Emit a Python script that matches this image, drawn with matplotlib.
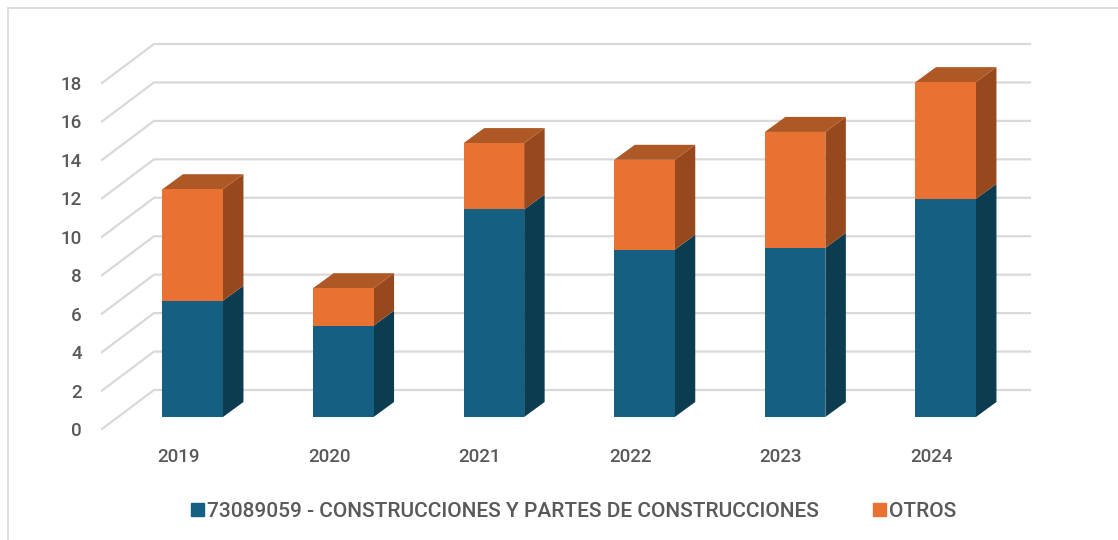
import matplotlib
matplotlib.use("Agg")
import matplotlib.pyplot as plt
import numpy as np
from matplotlib.lines import Line2D
from matplotlib.patches import Patch

years = ["2019", "2020", "2021", "2022", "2023", "2024"]
construcciones = [6.05, 4.75, 10.8, 8.7, 8.8, 11.35]
otros = [5.8, 1.95, 3.45, 4.68, 6.03, 6.07]
y_ticks = list(range(0, 20, 2))
series_names = ["73089059 - CONSTRUCCIONES Y PARTES DE CONSTRUCCIONES", "OTROS"]

BLUE, BLUE_SIDE = "#156082", "#0C3C50"
ORANGE, ORANGE_SIDE, ORANGE_TOP = "#E97132", "#97481D", "#AE5825"
GRID, TXT = "#D9D9D9", "#595959"
FONT = "Roboto"

W, H = 1118, 540
fig = plt.figure(figsize=(W / 100, H / 100), dpi=100)
L, R, T, B = 102, 1030, 83, 429
ax = fig.add_axes([L / W, 1 - B / H, (R - L) / W, (B - T) / H])
px_x = 150.6
px_y = (B - T) / 18
ax.set_ylim(0, 18)
ax.set_xlim((L - 178.5) / px_x, (R - 178.5) / px_x)
for s in ax.spines.values():
    s.set_visible(False)
ax.patch.set_visible(False)

# oblique projection offsets (pixels -> data units)
wall_dx, wall_dy = 52 / px_x, 39 / px_y
shift_x, shift_y = 14.2 / px_x, 12 / px_y
depth_x, depth_y = 20.5 / px_x, 15 / px_y
bw = 60.5 / px_x

# gridlines: floor/side segment plus back wall
xl = ax.get_xlim()
for v in y_ticks:
    ax.plot([xl[0], xl[0] + wall_dx, xl[1]], [v, v + wall_dy, v + wall_dy],
            color=GRID, lw=1.6, clip_on=False, zorder=1, solid_joinstyle="miter")

x = np.arange(len(years))
a = np.array(construcciones)
b = np.array(otros)
for i in x:
    x0 = i + shift_x - bw / 2
    x1 = x0 + bw
    base = shift_y
    t1 = base + a[i]
    t2 = t1 + b[i]
    # side faces
    ax.fill([x1, x1 + depth_x, x1 + depth_x, x1], [base, base + depth_y, t1 + depth_y, t1],
            color=BLUE_SIDE, lw=0, zorder=2, clip_on=False)
    ax.fill([x1, x1 + depth_x, x1 + depth_x, x1], [t1, t1 + depth_y, t2 + depth_y, t2],
            color=ORANGE_SIDE, lw=0, zorder=2, clip_on=False)
    # top face
    ax.fill([x0, x1, x1 + depth_x, x0 + depth_x], [t2, t2, t2 + depth_y, t2 + depth_y],
            color=ORANGE_TOP, lw=0, zorder=2, clip_on=False)
ax.bar(x + shift_x, a, bottom=shift_y, width=bw, color=BLUE, zorder=3, clip_on=False)
ax.bar(x + shift_x, b, bottom=shift_y + a, width=bw, color=ORANGE, zorder=3, clip_on=False)

ax.set_yticks(y_ticks)
ax.set_xticks(x)
ax.set_xticklabels(years)
ax.tick_params(axis="both", length=0, labelcolor=TXT, labelsize=13.5)
ax.tick_params(axis="y", pad=14.5)
ax.tick_params(axis="x", pad=14)
for lab in ax.get_xticklabels() + ax.get_yticklabels():
    lab.set_fontfamily(FONT)
    lab.set_fontweight("medium")

# chart frame (left and top edges visible)
fig.add_artist(Line2D([8 / W, 8 / W], [0, 1 - 8 / H], color=GRID, lw=1.2))
fig.add_artist(Line2D([8 / W, 1], [1 - 8 / H, 1 - 8 / H], color=GRID, lw=1.2))

handles = [Patch(color=BLUE), Patch(color=ORANGE)]
fig.legend(handles, series_names, ncol=2, loc="center left", bbox_to_anchor=(191 / W, 1 - 511.5 / H),
           frameon=False, prop={"family": FONT, "size": 15, "weight": "medium"}, labelcolor=TXT,
           borderpad=0, borderaxespad=0,
           handlelength=0.62, handleheight=0.62, handletextpad=0.15, columnspacing=2.6)

fig.savefig("out.png", dpi=100)
